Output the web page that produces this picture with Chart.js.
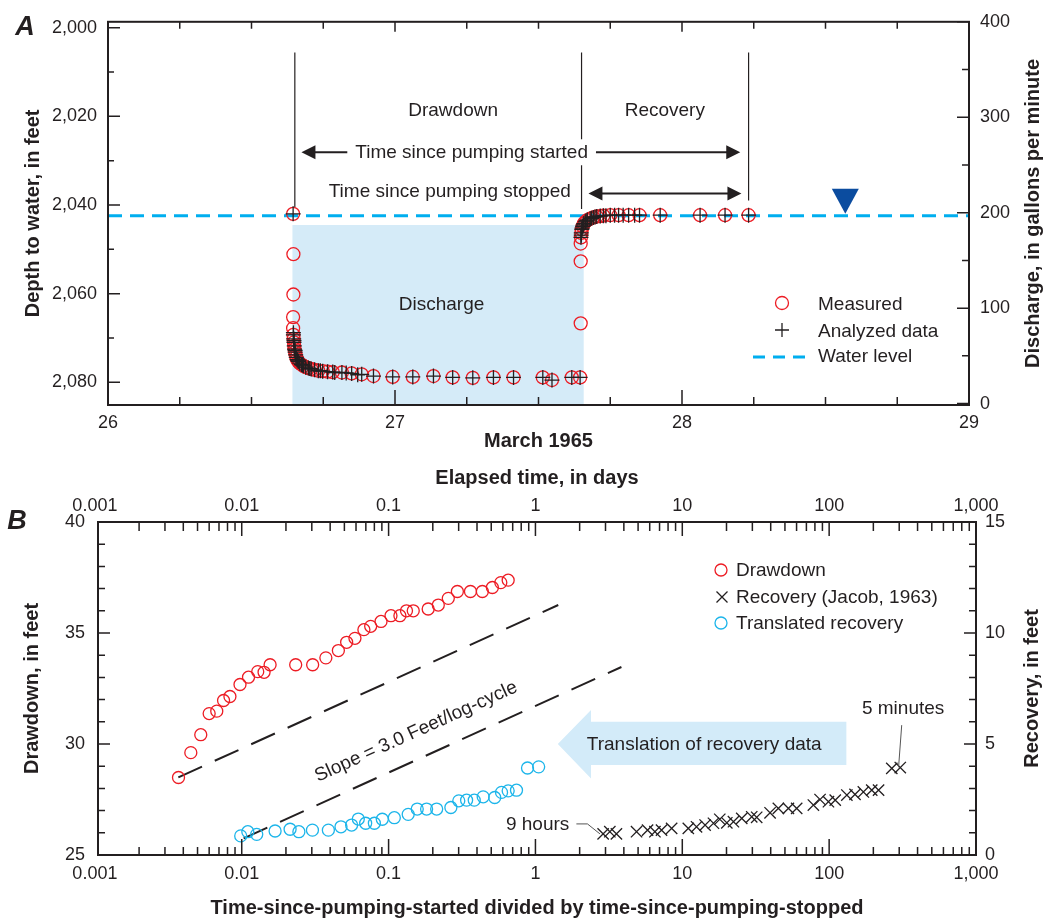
<!DOCTYPE html>
<html>
<head>
<meta charset="utf-8">
<title>Aquifer test, March 1965</title>
<script src="https://cdn.jsdelivr.net/npm/chart.js@4/dist/chart.umd.min.js"></script>
<style>
  html, body { margin: 0; padding: 0; background: #fff; }
  #wrap { position: relative; width: 1047px; height: 921px; }
  canvas { position: absolute; left: 0; }
  #panelA { top: 0; }
  #panelB { top: 460px; }
</style>
</head>
<body>
<div id="wrap">
  <canvas id="panelA" width="1047" height="460"></canvas>
  <canvas id="panelB" width="1047" height="461"></canvas>
</div>
<script>
const INK = '#231f20';
const RED = '#ed1c24';
const CYAN = '#1cb5ea';
const SANS = '"Liberation Sans", Arial, sans-serif';

// ---- Panel A: depth to water through the test (day of March 1965)
const measuredDay = [26.645, 26.646, 26.646, 26.645, 26.645, 26.646, 26.647, 26.648, 26.649, 26.650,
  26.652, 26.654, 26.656, 26.659, 26.663, 26.668, 26.674, 26.681, 26.689, 26.698,
  26.708, 26.720, 26.733, 26.748, 26.765, 26.783, 26.815, 26.849, 26.884, 26.925,
  26.992, 27.062, 27.134, 27.201, 27.271, 27.343, 27.413, 27.515, 27.547, 27.616, 27.645,
  27.647, 27.647, 27.647, 27.648, 27.649, 27.651, 27.654, 27.658, 27.663, 27.670,
  27.680, 27.691, 27.703, 27.715, 27.726, 27.750, 27.779, 27.814, 27.852, 27.924,
  28.063, 28.150, 28.232];
const measuredDepth = [2042.0, 2051.1, 2060.2, 2065.3, 2067.8, 2069.3, 2070.2, 2071.0, 2071.8, 2072.5,
  2073.2, 2073.8, 2074.4, 2074.9, 2075.3, 2075.7, 2076.0, 2076.3, 2076.6, 2076.8,
  2077.0, 2077.2, 2077.4, 2077.5, 2077.6, 2077.7, 2077.8, 2078.0, 2078.2, 2078.6,
  2078.8, 2078.8, 2078.6, 2078.9, 2079.0, 2078.9, 2078.9, 2078.9, 2079.5, 2078.9, 2078.9,
  2066.7, 2052.7, 2048.7, 2047.3, 2046.3, 2045.5, 2044.8, 2044.2, 2043.8, 2043.4,
  2043.1, 2042.8, 2042.6, 2042.5, 2042.4, 2042.3, 2042.3, 2042.3, 2042.3, 2042.3,
  2042.3, 2042.3, 2042.3];

const analyzedDay = [26.645, 26.646, 26.646, 26.647, 26.648, 26.648, 26.649, 26.650, 26.652, 26.652,
  26.654, 26.656, 26.659, 26.661, 26.663, 26.668, 26.674, 26.678, 26.681, 26.689,
  26.698, 26.703, 26.708, 26.720, 26.733, 26.740, 26.748, 26.765, 26.783, 26.790,
  26.815, 26.830, 26.849, 26.870, 26.884, 26.925, 26.992, 27.062, 27.134, 27.201,
  27.271, 27.343, 27.413, 27.515, 27.547, 27.616, 27.645,
  27.648, 27.649, 27.649, 27.651, 27.652, 27.654, 27.656, 27.658, 27.663, 27.666,
  27.670, 27.680, 27.685, 27.691, 27.697, 27.703, 27.715, 27.726, 27.735, 27.750,
  27.765, 27.779, 27.795, 27.814, 27.835, 27.852, 27.924, 28.063, 28.150, 28.232];
const analyzedDepth = [2042.0, 2068.8, 2069.3, 2070.2, 2070.6, 2071.0, 2071.8, 2072.5, 2072.8, 2073.2,
  2073.8, 2074.4, 2074.9, 2075.0, 2075.3, 2075.7, 2076.0, 2076.1, 2076.3, 2076.6,
  2076.8, 2076.9, 2077.0, 2077.2, 2077.4, 2077.4, 2077.5, 2077.6, 2077.7, 2077.8,
  2077.8, 2077.9, 2078.0, 2078.3, 2078.2, 2078.6, 2078.8, 2078.8, 2078.6, 2078.9,
  2079.0, 2078.9, 2078.9, 2078.9, 2079.5, 2078.9, 2078.9,
  2047.3, 2046.8, 2046.3, 2045.5, 2045.2, 2044.8, 2044.5, 2044.2, 2043.8, 2043.6,
  2043.4, 2043.1, 2043.0, 2042.8, 2042.7, 2042.6, 2042.5, 2042.4, 2042.4, 2042.3,
  2042.3, 2042.3, 2042.3, 2042.3, 2042.3, 2042.3, 2042.3, 2042.3, 2042.3, 2042.3];

const waterLevel = 2042.4;
const dischargeDays = [26.642, 27.658];
const dischargeRate = 187;
const phaseDays = [26.651, 27.650, 28.232];
const phaseTop = 2005.6;
const phaseBottom = [2040.5, 2040.9, 2039.0];

const dayTicks = [26, 26.25, 26.5, 26.75, 27, 27.25, 27.5, 27.75, 28, 28.25, 28.5, 28.75, 29];
const dayLabels = [26, 27, 28, 29];
const depthTicks = [2000, 2010, 2020, 2030, 2040, 2050, 2060, 2070, 2080];
const depthLabels = [2000, 2020, 2040, 2060, 2080];
const rateTicks = [0, 50, 100, 150, 200, 250, 300, 350, 400];
const rateLabels = [0, 100, 200, 300, 400];

// ---- Panel B: semilog plot of drawdown and recovery
const drawdownTime = [0.00371, 0.0045, 0.00526, 0.0060, 0.00676, 0.00752, 0.00831, 0.00973, 0.01112, 0.01285,
  0.01419, 0.0156, 0.0233, 0.0304, 0.0374, 0.0455, 0.0518, 0.059, 0.0679, 0.0755,
  0.0888, 0.1038, 0.1194, 0.1324, 0.1472, 0.186, 0.218, 0.255, 0.294, 0.361,
  0.435, 0.509, 0.581, 0.652];
const drawdownFeet = [28.49, 29.61, 30.42, 31.37, 31.48, 31.96, 32.14, 32.68, 33.01, 33.26,
  33.23, 33.57, 33.57, 33.57, 33.88, 34.21, 34.58, 34.76, 35.15, 35.30,
  35.52, 35.78, 35.78, 36.0, 36.0, 36.08, 36.26, 36.56, 36.87, 36.87,
  36.87, 37.05, 37.27, 37.38];

const recoveryRatio = [2.89, 3.21, 3.56, 4.88, 5.80, 6.51, 7.22, 8.46, 10.99, 12.5,
  14.3, 16.3, 18.0, 20.1, 22.3, 25.4, 29.7, 32.1, 39.6, 45.1,
  52.8, 60.1, 78.1, 86.7, 98.9, 110, 132, 150, 171, 195,
  217, 267, 305];
const recoveryFeet = [0.95, 1.05, 0.95, 1.05, 1.12, 1.05, 1.12, 1.20, 1.20, 1.27,
  1.35, 1.43, 1.61, 1.45, 1.50, 1.65, 1.72, 1.70, 1.90, 2.10,
  2.10, 2.10, 2.25, 2.50, 2.40, 2.47, 2.70, 2.73, 2.84, 2.92,
  2.92, 3.90, 3.94];

const translatedTime = [0.00984, 0.0110, 0.01265, 0.01687, 0.02134, 0.0245, 0.0303, 0.0389, 0.0474, 0.0560,
  0.0622, 0.0698, 0.080, 0.0906, 0.1094, 0.136, 0.1567, 0.1815, 0.2125, 0.2655,
  0.3006, 0.3398, 0.383, 0.4406, 0.528, 0.5876, 0.652, 0.743, 0.883, 1.052];
const translatedFeet = [25.86, 26.05, 25.93, 26.08, 26.16, 26.05, 26.12, 26.12, 26.27, 26.35,
  26.62, 26.43, 26.43, 26.61, 26.68, 26.83, 27.07, 27.07, 27.07, 27.14,
  27.44, 27.47, 27.47, 27.62, 27.59, 27.82, 27.89, 27.92, 28.92, 28.97];

// straight-line fits, 3.0 ft per log cycle
const slopeLineX = [[0.0037, 1.43], [0.0103, 3.85]];
const slopeLineY = [[28.5, 36.26], [25.75, 33.47]];

const logLabels = [0.001, 0.01, 0.1, 1, 10, 100, 1000];
const logTicks = logLabels.concat(logLabels.slice(0, -1).flatMap(d => [2, 3, 4, 5, 6, 7, 8, 9].map(m => d * m)));
const feetTicks = [25, 26, 27, 28, 29, 30, 31, 32, 33, 34, 35, 36, 37, 38, 39, 40];
const feetLabels = [25, 30, 35, 40];
const recTicks = [0, 1, 2, 3, 4, 5, 6, 7, 8, 9, 10, 11, 12, 13, 14, 15];
const recLabels = [0, 5, 10, 15];

Chart.defaults.color = INK;
Chart.defaults.font.family = SANS;

const points = (xs, ys) => xs.map((x, i) => ({x: x, y: ys[i]}));
const same = (a, b) => Math.abs(a - b) <= Math.abs(b) * 1e-6 + 1e-9;

// inward tick marks plus the box around the plot
function drawFrame(chart, specs) {
  const {ctx, chartArea: a} = chart;
  ctx.save();
  ctx.strokeStyle = INK;
  ctx.lineWidth = 1.5;
  ctx.beginPath();
  for (const s of specs) {
    const scale = chart.scales[s.axis];
    for (const v of s.values) {
      if (v < scale.min - 1e-9 || v > scale.max + 1e-9) continue;
      const len = s.major.some(m => same(v, m)) ? s.long : s.short;
      const p = scale.getPixelForValue(v);
      if (s.side === 'left') { ctx.moveTo(a.left, p); ctx.lineTo(a.left + len, p); }
      else if (s.side === 'right') { ctx.moveTo(a.right, p); ctx.lineTo(a.right - len, p); }
      else if (s.side === 'bottom') { ctx.moveTo(p, a.bottom); ctx.lineTo(p, a.bottom - len); }
      else { ctx.moveTo(p, a.top); ctx.lineTo(p, a.top + len); }
    }
  }
  ctx.stroke();
  ctx.lineWidth = 2;
  ctx.strokeRect(a.left, a.top, a.right - a.left, a.bottom - a.top);
  ctx.restore();
}

function sideTitle(ctx, text, x, y) {
  ctx.save();
  ctx.translate(x, y);
  ctx.rotate(-Math.PI / 2);
  ctx.font = 'bold 20px ' + SANS;
  ctx.fillStyle = INK;
  ctx.textAlign = 'center';
  ctx.textBaseline = 'middle';
  ctx.fillText(text, 0, 0);
  ctx.restore();
}

function panelLetter(ctx, text, x, y) {
  ctx.save();
  ctx.font = 'italic bold 27px ' + SANS;
  ctx.fillStyle = INK;
  ctx.textAlign = 'center';
  ctx.textBaseline = 'middle';
  ctx.fillText(text, x, y);
  ctx.restore();
}

function arrowHead(ctx, x, y, dir) {
  ctx.beginPath();
  ctx.moveTo(x, y);
  ctx.lineTo(x - dir * 14, y - 7);
  ctx.lineTo(x - dir * 14, y + 7);
  ctx.closePath();
  ctx.fill();
}

function ring(ctx, x, y, r, color) {
  ctx.save();
  ctx.strokeStyle = color;
  ctx.lineWidth = 1.3;
  ctx.beginPath();
  ctx.arc(x, y, r, 0, Math.PI * 2);
  ctx.stroke();
  ctx.restore();
}

function cross(ctx, x, y, r, rotated) {
  ctx.save();
  ctx.strokeStyle = INK;
  ctx.lineWidth = 1.3;
  ctx.beginPath();
  if (rotated) {
    ctx.moveTo(x - r, y - r); ctx.lineTo(x + r, y + r);
    ctx.moveTo(x - r, y + r); ctx.lineTo(x + r, y - r);
  } else {
    ctx.moveTo(x - r, y); ctx.lineTo(x + r, y);
    ctx.moveTo(x, y - r); ctx.lineTo(x, y + r);
  }
  ctx.stroke();
  ctx.restore();
}

const tickFont = {family: SANS, size: 18};
const titleFont = {family: SANS, size: 20, weight: 'bold'};
const noGrid = {display: false, drawTicks: false};
const noBorder = {display: false};

// ---------------- Panel A ----------------
const hydrographNotes = {
  id: 'hydrographNotes',
  afterDatasetsDraw(chart) {
    const {ctx} = chart;
    const x = chart.scales.x, y = chart.scales.y;
    ctx.save();
    ctx.fillStyle = INK;
    ctx.strokeStyle = INK;
    ctx.font = '19px ' + SANS;
    ctx.textAlign = 'center';
    ctx.textBaseline = 'middle';

    ctx.fillText('Drawdown', x.getPixelForValue(27.2025), y.getPixelForValue(2018.7));
    ctx.fillText('Recovery', x.getPixelForValue(27.940), y.getPixelForValue(2018.7));
    ctx.fillText('Discharge', x.getPixelForValue(27.162), y.getPixelForValue(2062.5));

    // time since pumping started
    const label1 = 'Time since pumping started';
    const y1 = y.getPixelForValue(2028.1);
    const l1 = x.getPixelForValue(26.674), r1 = x.getPixelForValue(28.203);
    const c1 = x.getPixelForValue(27.267);
    const w1 = ctx.measureText(label1).width;
    ctx.fillStyle = '#fff';
    ctx.fillRect(c1 - w1 / 2 - 4, y1 - 13, w1 + 8, 26);
    ctx.fillStyle = INK;
    ctx.fillText(label1, c1, y1);
    ctx.lineWidth = 2;
    ctx.beginPath();
    ctx.moveTo(l1 + 10, y1); ctx.lineTo(c1 - w1 / 2 - 8, y1);
    ctx.moveTo(c1 + w1 / 2 + 8, y1); ctx.lineTo(r1 - 10, y1);
    ctx.stroke();
    arrowHead(ctx, l1, y1, -1);
    arrowHead(ctx, r1, y1, 1);

    // time since pumping stopped
    ctx.fillText('Time since pumping stopped', x.getPixelForValue(27.191), y.getPixelForValue(2037.0));
    const y2 = y.getPixelForValue(2037.4);
    const l2 = x.getPixelForValue(27.674), r2 = x.getPixelForValue(28.207);
    ctx.beginPath();
    ctx.moveTo(l2 + 10, y2); ctx.lineTo(r2 - 10, y2);
    ctx.stroke();
    arrowHead(ctx, l2, y2, -1);
    arrowHead(ctx, r2, y2, 1);

    // static water-level symbol
    const tx = x.getPixelForValue(28.569), ty = y.getPixelForValue(2042.0);
    ctx.fillStyle = '#0b4c9f';
    ctx.beginPath();
    ctx.moveTo(tx, ty);
    ctx.lineTo(tx - 13.5, ty - 25);
    ctx.lineTo(tx + 13.5, ty - 25);
    ctx.closePath();
    ctx.fill();

    // legend
    ctx.fillStyle = INK;
    ctx.textAlign = 'left';
    ring(ctx, 782, 303, 6.5, RED);
    ctx.fillText('Measured', 818, 305);
    cross(ctx, 782, 330, 7, false);
    ctx.fillText('Analyzed data', 818, 332);
    ctx.save();
    ctx.strokeStyle = '#00aeef';
    ctx.lineWidth = 3;
    ctx.setLineDash([12, 8]);
    ctx.beginPath();
    ctx.moveTo(753, 357); ctx.lineTo(808, 357);
    ctx.stroke();
    ctx.restore();
    ctx.fillText('Water level', 818, 357);
    ctx.restore();

    drawFrame(chart, [
      {axis: 'y', side: 'left', values: depthTicks, major: depthLabels, long: 12, short: 6},
      {axis: 'y2', side: 'right', values: rateTicks, major: rateLabels, long: 12, short: 7},
      {axis: 'x', side: 'bottom', values: dayTicks, major: dayLabels, long: 15, short: 8},
      {axis: 'x', side: 'top', values: dayTicks, major: dayLabels, long: 10, short: 7}
    ]);
    const a = chart.chartArea;
    sideTitle(ctx, 'Discharge, in gallons per minute', a.right + 64, (a.top + a.bottom) / 2);
    panelLetter(ctx, 'A', 25, 28);
  }
};

const hydrographData = {
  datasets: [
    {
      type: 'line', label: 'Discharge', yAxisID: 'y2',
      data: points(dischargeDays, [dischargeRate, dischargeRate]),
      fill: 'start', backgroundColor: '#d5ebf8', borderWidth: 0, pointRadius: 0, order: 10
    },
    ...phaseDays.map((d, i) => ({
      type: 'line', label: 'phase ' + i,
      data: points([d, d], [phaseTop, phaseBottom[i]]),
      borderColor: INK, borderWidth: 1.2, pointRadius: 0, fill: false, order: 6
    })),
    {
      type: 'line', label: 'Water level',
      data: points([26, 29], [waterLevel, waterLevel]),
      borderColor: '#00aeef', borderWidth: 3, borderDash: [14, 8], pointRadius: 0, fill: false, order: 5
    },
    {
      label: 'Measured', data: points(measuredDay, measuredDepth),
      pointStyle: 'circle', pointRadius: 6.5, borderWidth: 1.3,
      borderColor: RED, backgroundColor: 'rgba(0,0,0,0)', order: 2
    },
    {
      label: 'Analyzed data', data: points(analyzedDay, analyzedDepth),
      pointStyle: 'cross', pointRadius: 7.5, borderWidth: 1.3,
      borderColor: INK, backgroundColor: INK, order: 1
    }
  ]
};

new Chart(document.getElementById('panelA'), {
  type: 'scatter',
  data: hydrographData,
  options: {
    responsive: false,
    animation: false,
    devicePixelRatio: 1,
    events: [],
    layout: {padding: {top: 17, left: 0, right: 0, bottom: 0}},
    plugins: {legend: {display: false}, tooltip: {enabled: false}},
    scales: {
      x: {
        type: 'linear', position: 'bottom', min: 26, max: 29,
        afterFit: s => { s.height = 55; },
        afterBuildTicks: s => { s.ticks = dayLabels.map(v => ({value: v})); },
        grid: noGrid, border: noBorder,
        ticks: {padding: 7, font: tickFont, maxRotation: 0, callback: v => String(v)},
        title: {display: true, text: 'March 1965', font: titleFont, padding: {top: 0, bottom: 7}}
      },
      y: {
        type: 'linear', position: 'left', reverse: true, min: 1998.66, max: 2085.13,
        afterFit: s => { s.width = 108; },
        afterBuildTicks: s => { s.ticks = depthLabels.map(v => ({value: v})); },
        grid: noGrid, border: noBorder,
        ticks: {padding: 11, font: tickFont, callback: v => v.toLocaleString('en-US')},
        title: {display: true, text: 'Depth to water, in feet', font: titleFont, padding: {top: 21, bottom: 0}}
      },
      y2: {
        type: 'linear', position: 'right', min: -1.5, max: 400,
        afterFit: s => { s.width = 78; },
        afterBuildTicks: s => { s.ticks = rateLabels.map(v => ({value: v})); },
        grid: noGrid, border: noBorder,
        ticks: {padding: 11, font: tickFont, callback: v => String(v)}
      }
    }
  },
  plugins: [hydrographNotes]
});

// ---------------- Panel B ----------------
const semilogNotes = {
  id: 'semilogNotes',
  beforeDatasetsDraw(chart) {
    const {ctx} = chart;
    const x = chart.scales.x, y = chart.scales.y;
    // translation arrow
    const tip = x.getPixelForValue(1.42), base = x.getPixelForValue(2.39), tail = x.getPixelForValue(131);
    ctx.save();
    ctx.fillStyle = '#d3ebf9';
    ctx.beginPath();
    ctx.moveTo(tip, y.getPixelForValue(30.0));
    ctx.lineTo(base, y.getPixelForValue(31.53));
    ctx.lineTo(base, y.getPixelForValue(31.0));
    ctx.lineTo(tail, y.getPixelForValue(31.0));
    ctx.lineTo(tail, y.getPixelForValue(29.05));
    ctx.lineTo(base, y.getPixelForValue(29.05));
    ctx.lineTo(base, y.getPixelForValue(28.45));
    ctx.closePath();
    ctx.fill();
    ctx.restore();
  },
  afterDatasetsDraw(chart) {
    const {ctx} = chart;
    const x = chart.scales.x, y = chart.scales.y;
    ctx.save();
    ctx.fillStyle = INK;
    ctx.font = '19px ' + SANS;
    ctx.textAlign = 'center';
    ctx.textBaseline = 'middle';

    ctx.fillText('Translation of recovery data', x.getPixelForValue(14.1), y.getPixelForValue(29.95));

    // slope label follows the fitted lines
    const ax = x.getPixelForValue(slopeLineX[0][0]), ay = y.getPixelForValue(slopeLineY[0][0]);
    const bx = x.getPixelForValue(slopeLineX[0][1]), by = y.getPixelForValue(slopeLineY[0][1]);
    ctx.save();
    ctx.translate(x.getPixelForValue(0.154), y.getPixelForValue(30.55));
    ctx.rotate(Math.atan2(by - ay, bx - ax));
    ctx.fillText('Slope = 3.0 Feet/log-cycle', 0, 0);
    ctx.restore();

    ctx.textAlign = 'right';
    ctx.fillText('9 hours', x.getPixelForValue(1.70), y.getPixelForValue(26.35));
    ctx.textAlign = 'center';
    ctx.fillText('5 minutes', x.getPixelForValue(319), y.getPixelForValue(31.6));

    ctx.strokeStyle = '#555';
    ctx.lineWidth = 1;
    ctx.beginPath();
    ctx.moveTo(x.getPixelForValue(1.90), y.getPixelForValue(26.4));
    ctx.lineTo(x.getPixelForValue(2.26), y.getPixelForValue(26.4));
    ctx.lineTo(x.getPixelForValue(2.75), y.getPixelForValue(25.95));
    ctx.moveTo(x.getPixelForValue(312), y.getPixelForValue(30.85));
    ctx.lineTo(x.getPixelForValue(297), y.getPixelForValue(28.95));
    ctx.stroke();

    // legend
    ctx.textAlign = 'left';
    ring(ctx, 721, 110, 6, RED);
    ctx.fillText('Drawdown', 736, 111);
    cross(ctx, 722, 137, 5.5, true);
    ctx.fillText('Recovery (Jacob, 1963)', 736, 138);
    ring(ctx, 721, 163, 6, CYAN);
    ctx.fillText('Translated recovery', 736, 164);
    ctx.restore();

    drawFrame(chart, [
      {axis: 'y', side: 'left', values: feetTicks, major: feetLabels, long: 12, short: 7},
      {axis: 'y2', side: 'right', values: recTicks, major: recLabels, long: 12, short: 7},
      {axis: 'x', side: 'bottom', values: logTicks, major: logLabels, long: 16, short: 8},
      {axis: 'x2', side: 'top', values: logTicks, major: logLabels, long: 14, short: 9}
    ]);
    const a = chart.chartArea;
    sideTitle(ctx, 'Recovery, in feet', a.right + 56, (a.top + a.bottom) / 2);
    panelLetter(ctx, 'B', 17, 62);
  }
};

const logTickLabel = v => v.toLocaleString('en-US', {maximumFractionDigits: 3});

new Chart(document.getElementById('panelB'), {
  type: 'scatter',
  data: {
    datasets: [
      ...slopeLineX.map((xs, i) => ({
        type: 'line', label: 'slope ' + i, data: points(xs, slopeLineY[i]),
        borderColor: INK, borderWidth: 2, borderDash: [26, 14], pointRadius: 0, fill: false, order: 5
      })),
      {
        label: 'Drawdown', data: points(drawdownTime, drawdownFeet),
        pointStyle: 'circle', pointRadius: 6, borderWidth: 1.3,
        borderColor: RED, backgroundColor: 'rgba(0,0,0,0)'
      },
      {
        label: 'Recovery (Jacob, 1963)', yAxisID: 'y2', data: points(recoveryRatio, recoveryFeet),
        pointStyle: 'crossRot', pointRadius: 8, borderWidth: 1.3,
        borderColor: INK, backgroundColor: INK
      },
      {
        label: 'Translated recovery', data: points(translatedTime, translatedFeet),
        pointStyle: 'circle', pointRadius: 6, borderWidth: 1.3,
        borderColor: CYAN, backgroundColor: 'rgba(0,0,0,0)'
      }
    ]
  },
  options: {
    responsive: false,
    animation: false,
    devicePixelRatio: 1,
    events: [],
    layout: {padding: 0},
    plugins: {legend: {display: false}, tooltip: {enabled: false}},
    scales: {
      x: {
        type: 'logarithmic', position: 'bottom', min: 0.00105, max: 1000,
        afterFit: s => { s.height = 66; },
        afterBuildTicks: s => { s.ticks = logLabels.map(v => ({value: v})); },
        grid: noGrid, border: noBorder,
        ticks: {padding: 8, font: tickFont, maxRotation: 0, autoSkip: false, callback: logTickLabel},
        title: {display: true, text: 'Time-since-pumping-started divided by time-since-pumping-stopped',
          font: titleFont, padding: {top: 0, bottom: 1}}
      },
      x2: {
        type: 'logarithmic', position: 'top', min: 0.00105, max: 1000,
        afterFit: s => { s.height = 62; },
        afterBuildTicks: s => { s.ticks = logLabels.map(v => ({value: v})); },
        grid: noGrid, border: noBorder,
        ticks: {padding: 5, font: tickFont, maxRotation: 0, autoSkip: false, callback: logTickLabel},
        title: {display: true, text: 'Elapsed time, in days', font: titleFont, padding: {top: 6, bottom: 0}}
      },
      y: {
        type: 'linear', position: 'left', min: 25, max: 40,
        afterFit: s => { s.width = 98; },
        afterBuildTicks: s => { s.ticks = feetLabels.map(v => ({value: v})); },
        grid: noGrid, border: noBorder,
        ticks: {padding: 13, font: tickFont, callback: v => String(v)},
        title: {display: true, text: 'Drawdown, in feet', font: titleFont, padding: {top: 20, bottom: 0}}
      },
      y2: {
        type: 'linear', position: 'right', min: 0, max: 15,
        afterFit: s => { s.width = 71; },
        afterBuildTicks: s => { s.ticks = recLabels.map(v => ({value: v})); },
        grid: noGrid, border: noBorder,
        ticks: {padding: 9, font: tickFont, callback: v => String(v)}
      }
    }
  },
  plugins: [semilogNotes]
});
</script>
</body>
</html>
